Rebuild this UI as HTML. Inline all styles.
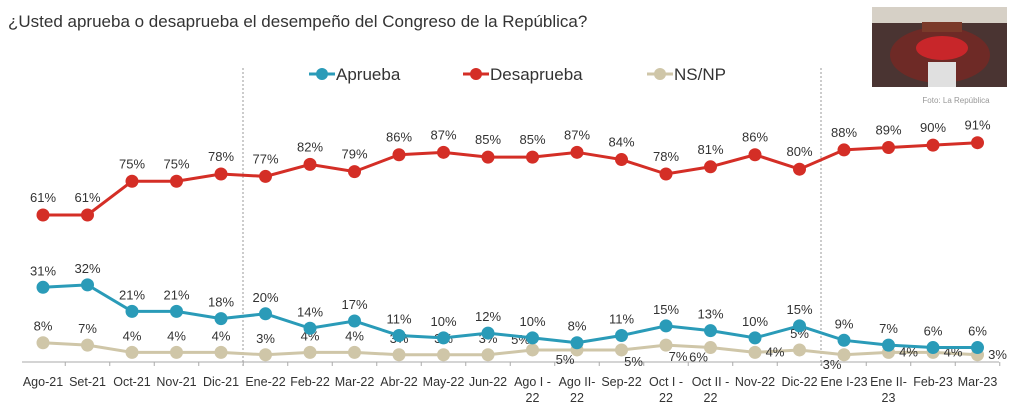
<!DOCTYPE html>
<html><head><meta charset="utf-8"><style>
body{margin:0;background:#fff;width:1024px;height:410px;overflow:hidden;font-family:"Liberation Sans","DejaVu Sans",sans-serif}
svg text{font-family:"Liberation Sans","DejaVu Sans",sans-serif}
</style></head><body>
<svg id="c" width="1024" height="410">
<text x="8" y="27" font-size="17" fill="#333">¿Usted aprueba o desaprueba el desempeño del Congreso de la República?</text>
<g>
<rect x="872" y="7" width="135" height="80" fill="#4a3432"/>
<rect x="872" y="7" width="135" height="16" fill="#d6d0c6"/>
<ellipse cx="940" cy="55" rx="50" ry="28" fill="#6e2a26"/>
<ellipse cx="942" cy="48" rx="26" ry="12" fill="#c8262a"/>
<rect x="928" y="62" width="28" height="25" fill="#e0e0e0"/>
<rect x="922" y="22" width="40" height="10" fill="#7a3a2a"/>
</g>
<text x="956" y="103" font-size="8" fill="#999" text-anchor="middle">Foto: La República</text>
<g id="legend"></g>
<g id="plot"></g>
</svg>
<script>
const categories=["Ago-21","Set-21","Oct-21","Nov-21","Dic-21","Ene-22","Feb-22","Mar-22","Abr-22","May-22","Jun-22","Ago I -|22","Ago II-|22","Sep-22","Oct I -|22","Oct II -|22","Nov-22","Dic-22","Ene I-23","Ene II-|23","Feb-23","Mar-23"];
const aprueba=[31,32,21,21,18,20,14,17,11,10,12,10,8,11,15,13,10,15,9,7,6,6];
const desaprueba=[61,61,75,75,78,77,82,79,86,87,85,85,87,84,78,81,86,80,88,89,90,91];
const nsnp=[8,7,4,4,4,3,4,4,3,3,3,5,5,5,7,6,4,5,3,4,4,3];
const nsLabelPos=["a","a","a","a","a","a","a","a","a","a","a","al","bl","br","br","bl","r","a","bl","r","r","r"];
const seriesNames=["Aprueba","Desaprueba","NS/NP"];
const colors=["#2a9bb8","#d42e26","#cfc6a8"];
const NS="http://www.w3.org/2000/svg";
const svg=document.getElementById('plot');
const x=i=>43+i*44.5;
const y=v=>362-v*2.41;
function mk(t,a,p){const e=document.createElementNS(NS,t);for(const k in a)e.setAttribute(k,a[k]);(p||svg).appendChild(e);return e;}
const ax=mk('line',{x1:22,y1:362,x2:999,y2:362,stroke:'#aaa','stroke-width':1});


[243,821].forEach(gx=>{const d=mk('line',{x1:gx,y1:68,x2:gx,y2:366,stroke:'#999','stroke-dasharray':'2,2','stroke-width':1});

});
categories.forEach((c,i)=>{
 const tk=mk('line',{x1:x(i)+22.25,y1:362,x2:x(i)+22.25,y2:366,stroke:'#aaa'});
 
 
 const parts=c.split('|');
 parts.forEach((p,j)=>{const t=mk('text',{x:x(i),y:386+j*16,'font-size':12.5,fill:'#333','text-anchor':'middle'});t.textContent=p;
 
 });
});
const data=[aprueba,desaprueba,nsnp];
[2,0,1].forEach(s=>{
 const vals=data[s];
 const pl=mk('polyline',{points:vals.map((v,i)=>x(i)+','+y(v)).join(' '),fill:'none',stroke:colors[s],'stroke-width':3});
 
 
 vals.forEach((v,i)=>{
  const c=mk('circle',{cx:x(i),cy:y(v),r:6.5,fill:colors[s]});
  
  
  let lx=x(i),ly=y(v)-12;
  if(s===1)ly=y(v)-13;
  if(s===2){const p=nsLabelPos[i];
   if(p==='bl'){ly=y(v)+14;lx=x(i)-12;}
   else if(p==='br'){ly=y(v)+16;lx=x(i)+12;}
   else if(p==='al'){ly=y(v)-6;lx=x(i)-12;}
   else if(p==='r'){lx=x(i)+20;ly=y(v)+4;}}
  const t=mk('text',{x:lx,y:ly,'font-size':13,fill:'#333','text-anchor':'middle'});
  t.textContent=v+'%';
  
  
 });
});
const lg=document.getElementById('legend');
const lx=[322,476,660];
seriesNames.forEach((n,i)=>{
 mk('line',{x1:lx[i]-13,y1:74,x2:lx[i]+13,y2:74,stroke:colors[i],'stroke-width':3},lg);
 mk('circle',{cx:lx[i],cy:74,r:6,fill:colors[i]},lg);
 const t=mk('text',{x:lx[i]+14,y:80,'font-size':17,fill:'#333'},lg);
 t.textContent=n;
 
 
});
</script>
</body></html>
